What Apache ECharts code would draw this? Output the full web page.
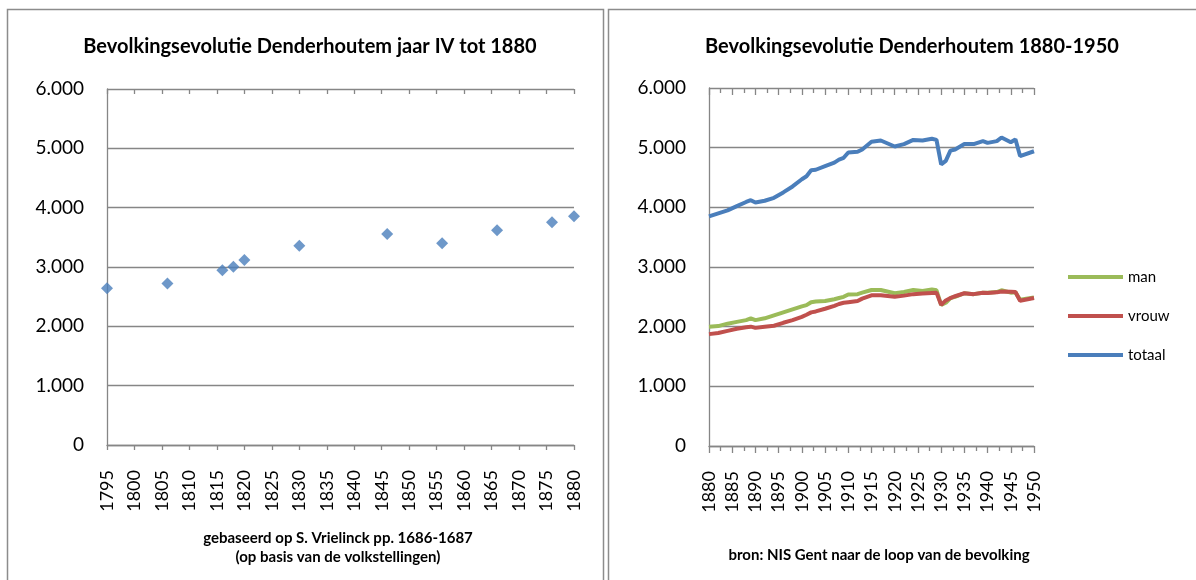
<!DOCTYPE html>
<html lang="nl">
<head>
    <meta charset="UTF-8">
    <title>Bevolkingsevolutie Denderhoutem</title>
    <script src="https://cdn.jsdelivr.net/npm/echarts@6.0.0/dist/echarts.min.js"></script>
</head>
<body style="margin:0;background:#fff;">
    <div id="chart" style="width:1196px;height:580px;"></div>
    <script>
        // links: volkstellingen tot 1880
        var oudJaren = [1795, 1806, 1816, 1818, 1820, 1830, 1846, 1856, 1866, 1876, 1880];
        var oudInwoners = [2640, 2720, 2945, 3005, 3120, 3360, 3555, 3400, 3620, 3755, 3855];

        // rechts: 1880-1950
        var jaren = [1880, 1882, 1884, 1886, 1888, 1889, 1890, 1892, 1894, 1896, 1898, 1900, 1901, 1902, 1903,
            1905, 1907, 1908, 1909, 1910, 1912, 1913, 1915, 1917, 1920, 1922, 1924, 1926, 1928, 1929,
            1930, 1931, 1932, 1933, 1935, 1937, 1939, 1940, 1942, 1943, 1945, 1946, 1947, 1950];
        var man = [2000, 2010, 2050, 2080, 2110, 2140, 2110, 2140, 2190, 2240, 2290, 2340, 2360, 2410, 2420,
            2430, 2460, 2480, 2500, 2540, 2545, 2570, 2615, 2615, 2560, 2580, 2615, 2600, 2625, 2610,
            2365, 2400, 2480, 2500, 2560, 2545, 2570, 2570, 2580, 2610, 2570, 2575, 2450, 2490];
        var vrouw = [1875, 1895, 1930, 1965, 1990, 2000, 1980, 2000, 2015, 2065, 2110, 2165, 2200, 2240, 2255,
            2300, 2350, 2380, 2400, 2410, 2430, 2470, 2525, 2525, 2500, 2520, 2545, 2555, 2565, 2570,
            2365, 2440, 2480, 2510, 2560, 2545, 2570, 2565, 2575, 2590, 2585, 2580, 2435, 2480];
        var totaal = [3850, 3900, 3950, 4020, 4090, 4120, 4080, 4110, 4160, 4250, 4350, 4470, 4520, 4620, 4630,
            4690, 4750, 4800, 4830, 4920, 4930, 4970, 5100, 5120, 5020, 5060, 5130, 5120, 5150, 5130,
            4720, 4780, 4950, 4970, 5060, 5060, 5110, 5080, 5110, 5170, 5090, 5140, 4860, 4940];

        function paren(x, y) {
            var out = [];
            for (var i = 0; i < x.length; i++) out.push([x[i], y[i]]);
            return out;
        }

        var grijs = '#868686';
        var font = 'Lato';

        function punt(v) {
            return String(v).replace(/\B(?=(\d{3})+(?!\d))/g, '.');
        }

        function yAs(grid) {
            return {
                type: 'value', gridIndex: grid, min: 0, max: 6000, interval: 1000,
                axisLine: {show: true, lineStyle: {color: grijs, width: 1.3}},
                axisTick: {show: false},
                axisLabel: {color: '#000', fontSize: 19, fontFamily: font, margin: 23, formatter: punt},
                splitLine: {lineStyle: {color: grijs, width: 1.3}}
            };
        }

        function xAs(grid, min, max, len, minor) {
            return {
                type: 'value', gridIndex: grid, min: min, max: max, interval: 5,
                axisLine: {show: true, lineStyle: {color: grijs, width: 1.3}},
                axisTick: {show: true, length: len, lineStyle: {color: grijs, width: 1.3}},
                minorTick: {show: minor, splitNumber: 2, length: 5, lineStyle: {color: grijs, width: 1.3}},
                axisLabel: {color: '#000', fontSize: 18, fontFamily: font, rotate: 90, margin: 25,
                    formatter: function (v) { return String(v); }},
                splitLine: {show: false}
            };
        }

        // tweede as op dezelfde plek, zodat de streepjes door de as heen kruisen
        function xBinnen(grid, min, max, len, minor) {
            return {
                type: 'value', gridIndex: grid, min: min, max: max, interval: 5,
                axisLine: {show: false},
                axisTick: {show: true, inside: true, length: len, lineStyle: {color: grijs, width: 1.3}},
                minorTick: {show: minor, splitNumber: 2, length: 5, lineStyle: {color: grijs, width: 1.3}},
                axisLabel: {show: false},
                splitLine: {show: false}
            };
        }

        var chart = echarts.init(document.getElementById('chart'));

        var option = {
            animation: false,
            textStyle: {fontFamily: font},
            title: [
                {
                    text: 'Bevolkingsevolutie Denderhoutem jaar IV tot 1880',
                    left: 305, top: 32, textAlign: 'center',
                    textStyle: {fontSize: 20, fontWeight: 'bold', color: '#000', fontFamily: font}
                },
                {
                    text: 'Bevolkingsevolutie Denderhoutem 1880-1950',
                    left: 907, top: 32, textAlign: 'center',
                    textStyle: {fontSize: 20, fontWeight: 'bold', color: '#000', fontFamily: font}
                }
            ],
            legend: {
                data: ['man', 'vrouw', 'totaal'],
                orient: 'vertical',
                left: 1063, top: 262,
                icon: 'rect',
                itemWidth: 55, itemHeight: 4,
                itemGap: 19,
                textStyle: {fontSize: 15, color: '#000', fontFamily: font, lineHeight: 20}
            },
            graphic: [
                {type: 'rect', shape: {x: 7.5, y: 9.5, width: 596, height: 600},
                    style: {fill: 'none', stroke: '#8c8c8c', lineWidth: 1.5}},
                {type: 'rect', shape: {x: 608.5, y: 9.5, width: 700, height: 600},
                    style: {fill: 'none', stroke: '#8c8c8c', lineWidth: 1.5}},
                {type: 'text', x: 338, y: 538,
                    style: {text: 'gebaseerd op S. Vrielinck pp. 1686-1687', fill: '#000',
                        font: 'bold 15px Lato', textAlign: 'center', textVerticalAlign: 'middle'}},
                {type: 'text', x: 338, y: 557,
                    style: {text: '(op basis van de volkstellingen)', fill: '#000',
                        font: 'bold 15px Lato', textAlign: 'center', textVerticalAlign: 'middle'}},
                {type: 'text', x: 879, y: 555,
                    style: {text: 'bron: NIS Gent naar de loop van de bevolking', fill: '#000',
                        font: 'bold 15px Lato', textAlign: 'center', textVerticalAlign: 'middle'}}
            ],
            grid: [
                {left: 107, top: 89, width: 467, height: 356},
                {left: 709, top: 88, width: 325, height: 358}
            ],
            xAxis: [
                xAs(0, 1795, 1880, 5, false),
                xAs(1, 1880, 1950, 7, true),
                xBinnen(0, 1795, 1880, 5, false),
                xBinnen(1, 1880, 1950, 7, true)
            ],
            yAxis: [yAs(0), yAs(1)],
            series: [
                {
                    name: 'inwoners', type: 'scatter', xAxisIndex: 0, yAxisIndex: 0,
                    symbol: 'diamond', symbolSize: 12,
                    itemStyle: {color: '#4A7EBB'},
                    data: paren(oudJaren, oudInwoners)
                },
                {
                    name: 'man', type: 'line', xAxisIndex: 1, yAxisIndex: 1,
                    symbol: 'none', lineStyle: {color: '#9BBB59', width: 4}, itemStyle: {color: '#9BBB59'},
                    data: paren(jaren, man)
                },
                {
                    name: 'vrouw', type: 'line', xAxisIndex: 1, yAxisIndex: 1,
                    symbol: 'none', lineStyle: {color: '#C0504D', width: 4}, itemStyle: {color: '#C0504D'},
                    data: paren(jaren, vrouw)
                },
                {
                    name: 'totaal', type: 'line', xAxisIndex: 1, yAxisIndex: 1,
                    symbol: 'none', lineStyle: {color: '#4A7EBB', width: 4}, itemStyle: {color: '#4A7EBB'},
                    data: paren(jaren, totaal)
                }
            ]
        };

        chart.setOption(option);
    </script>
</body>
</html>
